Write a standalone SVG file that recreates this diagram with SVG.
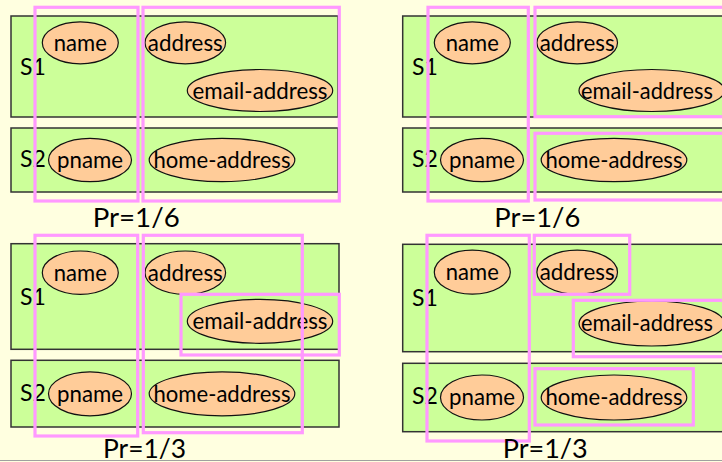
<svg xmlns="http://www.w3.org/2000/svg" width="722" height="462" viewBox="0 0 722 462">
  <style>
    .bg { fill: #FFFFE0; }
    .src { fill: #CCFF99; stroke: #333333; stroke-width: 1.5; }
    .attr { fill: #FFCC99; stroke: #111111; stroke-width: 1.2; }
    .part { fill: none; stroke: #FF99FF; stroke-width: 3.2; }
    text { font-family: Lato, "Liberation Sans", sans-serif; fill: #000000; }
    .lbl { font-size: 23.5px; text-anchor: middle; }
    .sname { font-size: 23px; }
    .pr { font-size: 26.5px; }
  </style>
  <rect class="bg" x="0" y="0" width="722" height="462"/>
  <line x1="0" y1="460.5" x2="722" y2="460.5" stroke="#A0A0A0" stroke-width="1"/>

  <!-- Panel 1: top left -->
  <g id="panel-tl">
    <g id="tl-s1"><rect class="src" x="11" y="16" width="327" height="101"/><text class="sname" x="20" y="75">S1</text></g>
    <g id="tl-s2"><rect class="src" x="11" y="128" width="327" height="64"/><text class="sname" x="20" y="167">S2</text></g>
    <g id="tl-name"><ellipse class="attr" cx="80.3" cy="42.8" rx="38" ry="21"/><text class="lbl" x="80.3" y="50.8" textLength="53" lengthAdjust="spacingAndGlyphs">name</text></g>
    <g id="tl-address"><ellipse class="attr" cx="185.3" cy="42.8" rx="40.3" ry="21"/><text class="lbl" x="185.3" y="50.8" textLength="75" lengthAdjust="spacingAndGlyphs">address</text></g>
    <g id="tl-email"><ellipse class="attr" cx="260" cy="90.5" rx="72.7" ry="21"/><text class="lbl" x="260" y="98.5" textLength="135" lengthAdjust="spacingAndGlyphs">email-address</text></g>
    <g id="tl-pname"><ellipse class="attr" cx="90" cy="160" rx="41.5" ry="21.7"/><text class="lbl" x="90" y="168" textLength="66" lengthAdjust="spacingAndGlyphs">pname</text></g>
    <g id="tl-home"><ellipse class="attr" cx="222" cy="160" rx="72.8" ry="21.7"/><text class="lbl" x="222" y="168" textLength="137" lengthAdjust="spacingAndGlyphs">home-address</text></g>
    <g id="tl-parts">
      <rect class="part" x="35" y="7.3" width="103" height="193.7"/>
      <rect class="part" x="143" y="7.3" width="196.3" height="193.7"/>
    </g>
    <text class="pr" x="92.7" y="226.7" textLength="87" lengthAdjust="spacingAndGlyphs">Pr=1/6</text>
  </g>

  <!-- Panel 2: top right -->
  <g id="panel-tr">
    <g id="tr-s1"><rect class="src" x="402.7" y="16" width="330" height="101"/><text class="sname" x="412" y="75">S1</text></g>
    <g id="tr-s2"><rect class="src" x="402.7" y="128" width="330" height="64"/><text class="sname" x="412" y="167">S2</text></g>
    <g id="tr-name"><ellipse class="attr" cx="472.3" cy="42.8" rx="38" ry="21"/><text class="lbl" x="472.3" y="50.8" textLength="53" lengthAdjust="spacingAndGlyphs">name</text></g>
    <g id="tr-address"><ellipse class="attr" cx="577.2" cy="42.8" rx="40.3" ry="21"/><text class="lbl" x="577.2" y="50.8" textLength="75" lengthAdjust="spacingAndGlyphs">address</text></g>
    <g id="tr-email"><ellipse class="attr" cx="651.7" cy="90.5" rx="72.7" ry="21"/><text class="lbl" x="647" y="98.5" textLength="132" lengthAdjust="spacingAndGlyphs">email-address</text></g>
    <g id="tr-pname"><ellipse class="attr" cx="482" cy="160" rx="41.5" ry="21.7"/><text class="lbl" x="482" y="168" textLength="66" lengthAdjust="spacingAndGlyphs">pname</text></g>
    <g id="tr-home"><ellipse class="attr" cx="614" cy="160" rx="72.8" ry="21.7"/><text class="lbl" x="614" y="168" textLength="137" lengthAdjust="spacingAndGlyphs">home-address</text></g>
    <g id="tr-parts">
      <rect class="part" x="428" y="7.3" width="100.3" height="193.7"/>
      <rect class="part" x="535" y="7.3" width="200" height="109.4"/>
      <rect class="part" x="535" y="133.3" width="200" height="66.7"/>
    </g>
    <text class="pr" x="494.3" y="226.7" textLength="86" lengthAdjust="spacingAndGlyphs">Pr=1/6</text>
  </g>

  <!-- Panel 3: bottom left -->
  <g id="panel-bl">
    <g id="bl-s1"><rect class="src" x="11" y="243.7" width="328" height="105.6"/><text class="sname" x="20" y="305">S1</text></g>
    <g id="bl-s2"><rect class="src" x="11" y="360.3" width="328" height="66.7"/><text class="sname" x="20" y="401">S2</text></g>
    <g id="bl-name"><ellipse class="attr" cx="80.3" cy="272.7" rx="38" ry="21.7"/><text class="lbl" x="80.3" y="280.5" textLength="53" lengthAdjust="spacingAndGlyphs">name</text></g>
    <g id="bl-address"><ellipse class="attr" cx="185.3" cy="272.7" rx="40.3" ry="21.7"/><text class="lbl" x="185.3" y="280.5" textLength="75" lengthAdjust="spacingAndGlyphs">address</text></g>
    <g id="bl-email"><ellipse class="attr" cx="260" cy="321.3" rx="72.7" ry="22"/><text class="lbl" x="260" y="329.2" textLength="135" lengthAdjust="spacingAndGlyphs">email-address</text></g>
    <g id="bl-pname"><ellipse class="attr" cx="90" cy="393.8" rx="41.5" ry="22"/><text class="lbl" x="90" y="401.7" textLength="66" lengthAdjust="spacingAndGlyphs">pname</text></g>
    <g id="bl-home"><ellipse class="attr" cx="222" cy="393.8" rx="72.8" ry="22"/><text class="lbl" x="222" y="401.7" textLength="137" lengthAdjust="spacingAndGlyphs">home-address</text></g>
    <g id="bl-parts">
      <rect class="part" x="35" y="235.3" width="102.7" height="200.7"/>
      <rect class="part" x="143.3" y="235.3" width="159" height="197.4"/>
      <rect class="part" x="181" y="294.3" width="158.3" height="60.7"/>
    </g>
    <text class="pr" x="103" y="457.5" textLength="83" lengthAdjust="spacingAndGlyphs">Pr=1/3</text>
  </g>

  <!-- Panel 4: bottom right -->
  <g id="panel-br">
    <g id="br-s1"><rect class="src" x="402.7" y="244.3" width="330" height="107.4"/><text class="sname" x="412" y="306">S1</text></g>
    <g id="br-s2"><rect class="src" x="402.7" y="363.3" width="330" height="68.4"/><text class="sname" x="412" y="404.3">S2</text></g>
    <g id="br-name"><ellipse class="attr" cx="472.3" cy="272.2" rx="38" ry="22"/><text class="lbl" x="472.3" y="280.1" textLength="53" lengthAdjust="spacingAndGlyphs">name</text></g>
    <g id="br-address"><ellipse class="attr" cx="577.2" cy="272.2" rx="40.3" ry="22"/><text class="lbl" x="577.2" y="280.1" textLength="75" lengthAdjust="spacingAndGlyphs">address</text></g>
    <g id="br-email"><ellipse class="attr" cx="651.7" cy="323.5" rx="72.7" ry="22.5"/><text class="lbl" x="647" y="331.4" textLength="132" lengthAdjust="spacingAndGlyphs">email-address</text></g>
    <g id="br-pname"><ellipse class="attr" cx="482" cy="397.5" rx="41.5" ry="22.5"/><text class="lbl" x="482" y="405.4" textLength="66" lengthAdjust="spacingAndGlyphs">pname</text></g>
    <g id="br-home"><ellipse class="attr" cx="614" cy="397.5" rx="72.8" ry="22.5"/><text class="lbl" x="614" y="405.4" textLength="137" lengthAdjust="spacingAndGlyphs">home-address</text></g>
    <g id="br-parts">
      <rect class="part" x="427" y="235.3" width="102.3" height="205.7"/>
      <rect class="part" x="534.3" y="235.3" width="95.4" height="59"/>
      <rect class="part" x="573.3" y="300.3" width="160" height="56.4"/>
      <rect class="part" x="535" y="368.7" width="158.3" height="56.3"/>
    </g>
    <text class="pr" x="502.7" y="457.5" textLength="85" lengthAdjust="spacingAndGlyphs">Pr=1/3</text>
  </g>
</svg>
